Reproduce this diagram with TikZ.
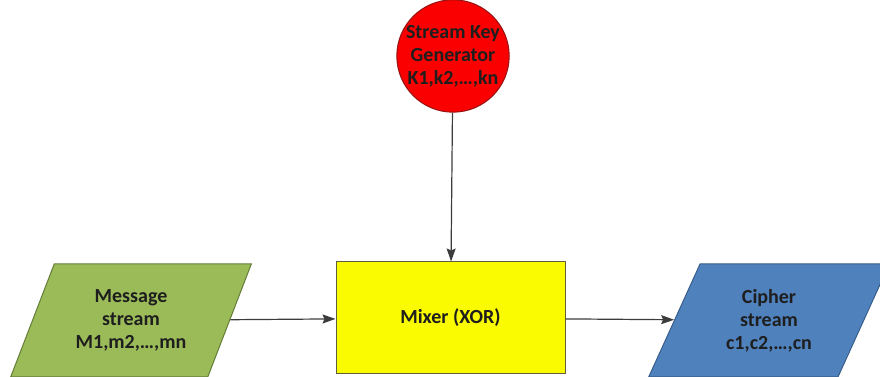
\documentclass[tikz,border=0pt]{standalone}
\usepackage{fontspec}
\setmainfont{Carlito}
\usepackage{tikz}
\usetikzlibrary{positioning,arrows.meta,shapes.geometric}
\usepackage{xcolor}

\definecolor{msggreen}{RGB}{155,187,89}
\definecolor{msggreenline}{RGB}{100,125,55}
\definecolor{cipherblue}{RGB}{79,129,189}
\definecolor{cipherblueline}{RGB}{56,93,138}
\definecolor{keyred}{RGB}{250,0,0}
\definecolor{keyredline}{RGB}{150,20,20}
\definecolor{mixyellow}{RGB}{250,250,0}
\definecolor{mixyellowline}{RGB}{95,95,60}
\definecolor{flowgray}{RGB}{60,60,60}
\definecolor{labeltext}{RGB}{30,30,30}

\tikzset{
  label font/.style={font=\fontsize{20}{23}\selectfont\bfseries, text=labeltext, align=center},
  stream/.style={trapezium, trapezium left angle=63, trapezium right angle=117,
                 trapezium stretches=true, minimum width=241pt, minimum height=113pt,
                 inner sep=0pt, line width=1pt, label font},
  flow/.style={draw=flowgray, line width=1.2pt, -{Stealth[length=13pt,width=9pt,inset=2pt]}}
}

\begin{document}
\begin{tikzpicture}[x=1pt, y=1pt]

  % Define radius
  \def\r{55}

  % Page frame
  \useasboundingbox (0, 0) rectangle (880, 377);

  % Key generator
  \node[circle, minimum size=2*\r pt, inner sep=0pt, fill=keyred, draw=keyredline,
        line width=1pt, label font] (keygen) at (453, 321)
        {Stream Key\\Generator\\K1,k2,…,kn};

  % Mixer
  \node[rectangle, minimum width=229pt, minimum height=112pt, fill=mixyellow,
        draw=mixyellowline, line width=1pt, label font] (mixer) at (450.5, 59)
        {Mixer (XOR)};

  % Streams
  \node[stream, fill=msggreen, draw=msggreenline] (msg) at (131, 56.5)
        {Message\\stream\\M1,m2,…,mn};
  \node[stream, fill=cipherblue, draw=cipherblueline] (cipher) at (769, 56.5)
        {Cipher\\stream\\c1,c2,…,cn};

  % Connectors
  \draw[flow] (keygen) -- (mixer);
  \draw[flow] (msg) -- (mixer);
  \draw[flow] (mixer) -- (cipher);

\end{tikzpicture}
\end{document}
